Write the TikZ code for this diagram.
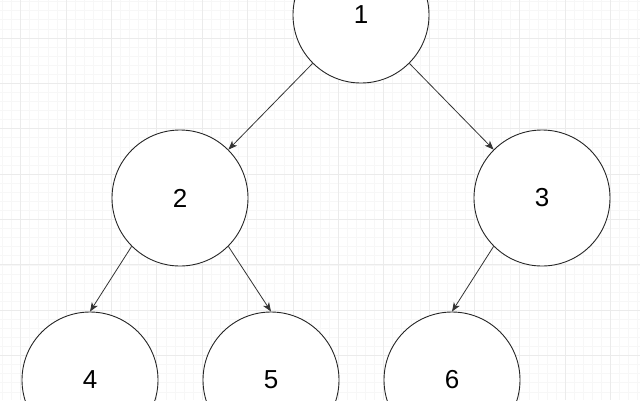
\documentclass[tikz,border=0pt]{standalone}
\usepackage{fontspec}
\setmainfont{Liberation Sans}
\usetikzlibrary{arrows.meta}
\begin{document}
\begin{tikzpicture}[x=1pt,y=-1pt,
  treenode/.style={circle,draw=black!85,line width=0.9pt,fill=white,minimum size=136pt,inner sep=0pt,font=\fontsize{26}{26}\selectfont},
  edge/.style={draw=black!80,line width=0.8pt,-{Stealth[length=9pt,width=7pt,inset=2.5pt]}}]
\useasboundingbox (0,0) rectangle (640,400);
\fill[white] (0,0) rectangle (640,400);
% minor grid
\foreach \i in {0,...,75}{
  \draw[black!3,line width=0.8pt] ({20.7-45.38+\i*9.076},0) -- ({20.7-45.38+\i*9.076},400);
}
\foreach \i in {0,...,50}{
  \draw[black!3,line width=0.8pt] (0,{38-45.38+\i*9.076}) -- (640,{38-45.38+\i*9.076});
}
% major grid
\foreach \i in {0,...,14}{
  \draw[black!8,line width=0.9pt] ({20.7+\i*45.38},0) -- ({20.7+\i*45.38},400);
}
\foreach \i in {-1,...,8}{
  \draw[black!8,line width=0.9pt] (0,{38+\i*45.38}) -- (640,{38+\i*45.38});
}
\node[treenode] (n1) at (361,15) {1};
\node[treenode] (n2) at (180,198) {2};
\node[treenode] (n3) at (542,198) {3};
\node[treenode] (n4) at (90,380) {4};
\node[treenode] (n5) at (271,380) {5};
\node[treenode] (n6) at (452,380) {6};
\draw[edge] (n1.south west) -- (n2.north east);
\draw[edge] (n1.south east) -- (n3.north west);
\draw[edge] (n2.south west) -- (n4.north);
\draw[edge] (n2.south east) -- (n5.north);
\draw[edge] (n3.south west) -- (n6.north);
\end{tikzpicture}
\end{document}
